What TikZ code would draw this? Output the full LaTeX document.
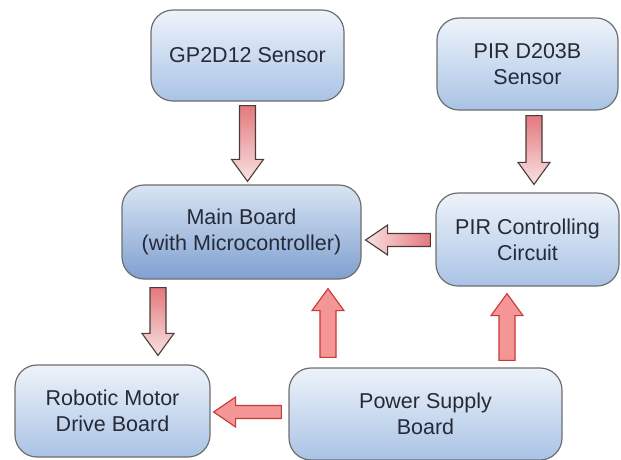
\documentclass[tikz,border=0pt]{standalone}
\usepackage{fontspec}
\setmainfont{Liberation Sans}
\usetikzlibrary{calc}
\definecolor{boxedge}{HTML}{6E6E6E}
\definecolor{boxtop}{HTML}{EEF3FA}
\definecolor{boxbot}{HTML}{A9C3E5}
\definecolor{maintop}{HTML}{D9E4F3}
\definecolor{mainbot}{HTML}{7FA0D0}
\definecolor{txt}{HTML}{262A38}
\definecolor{darkedge}{HTML}{4A3A3A}
\definecolor{pinkstrong}{HTML}{E4797D}
\definecolor{pinklight}{HTML}{F8E2E2}
\definecolor{rededge}{HTML}{C83838}
\definecolor{redfill}{HTML}{F49696}
\tikzset{
  block/.style={draw=boxedge, line width=1.2pt, rounded corners=22pt,
    top color=boxtop, bottom color=boxbot, align=center, text=txt,
    font=\fontsize{21.5}{26}\selectfont, inner sep=2pt},
  mainblock/.style={block, top color=maintop, bottom color=mainbot},
  darkdown/.style={draw=darkedge, line width=1.1pt, top color=pinkstrong, bottom color=pinklight},
  darkleft/.style={draw=darkedge, line width=1.1pt, left color=pinklight, right color=pinkstrong},
  redarr/.style={draw=rededge, line width=1.1pt, fill=redfill}
}
% vertical block arrow: #1 tail, #2 tip, #3 head offset from tip, #4 style
\newcommand\varrow[4]{%
  \draw[#4] ($#1+(-8,0)$) -- ($#2+(-8,#3)$) -- ($#2+(-16,#3)$) -- #2
    -- ($#2+(16,#3)$) -- ($#2+(8,#3)$) -- ($#1+(8,0)$) -- cycle;}
% horizontal block arrow
\newcommand\harrow[4]{%
  \draw[#4] ($#1+(0,-6.5)$) -- ($#2+(#3,-6.5)$) -- ($#2+(#3,-15)$) -- #2
    -- ($#2+(#3,15)$) -- ($#2+(#3,6.5)$) -- ($#1+(0,6.5)$) -- cycle;}
\begin{document}
\begin{tikzpicture}[x=1pt,y=-1pt]
\useasboundingbox (0,0) rectangle (621,459);
\node[block, minimum width=193pt, minimum height=91pt] (gp) at (247.5,55.5) {GP2D12 Sensor};
\node[block, minimum width=181pt, minimum height=92pt] (pirs) at (527.5,64) {PIR D203B\\Sensor};
\node[mainblock, minimum width=239pt, minimum height=94pt] (main) at (241.5,232) {Main Board\\(with Microcontroller)};
\node[block, minimum width=183pt, minimum height=93pt] (pirc) at (527.5,239.5) {PIR Controlling\\Circuit};
\node[block, minimum width=195pt, minimum height=92pt] (robot) at (112.5,411) {Robotic Motor\\Drive Board};
\node[block, minimum width=273pt, minimum height=92pt] (power) at (425.5,414) {Power Supply\\Board};

\coordinate (a1t) at ($(gp.south)+(0,4)$);
\coordinate (a1h) at ($(gp.south |- main.north)+(0,-3)$);
\varrow{(a1t)}{(a1h)}{-22}{darkdown}

\coordinate (a2t) at ($(pirs.south)+(6.5,5)$);
\coordinate (a2h) at ($(pirc.north)+(6.5,-8)$);
\varrow{(a2t)}{(a2h)}{-22}{darkdown}

\coordinate (a3t) at ($(main.south)+(-83.5,8)$);
\coordinate (a3h) at ($(robot.north)+(45.5,-9)$);
\varrow{(a3t)}{(a3h)}{-22}{darkdown}

\coordinate (a4t) at ($(pirc.west)+(-5,0.5)$);
\coordinate (a4h) at ($(main.east)+(4,8)$);
\harrow{(a4t)}{(a4h)}{22}{darkleft}

\coordinate (a5t) at ($(power.north)+(-97.5,-10)$);
\coordinate (a5h) at ($(main.south)+(86.5,9)$);
\varrow{(a5t)}{(a5h)}{22}{redarr}

\coordinate (a6t) at ($(power.north)+(81.5,-7)$);
\coordinate (a6h) at ($(pirc.south)+(-20.5,7)$);
\varrow{(a6t)}{(a6h)}{22}{redarr}

\coordinate (a7t) at ($(power.west)+(-7,-2)$);
\coordinate (a7h) at ($(robot.east)+(3,1)$);
\harrow{(a7t)}{(a7h)}{22}{redarr}
\end{tikzpicture}
\end{document}
